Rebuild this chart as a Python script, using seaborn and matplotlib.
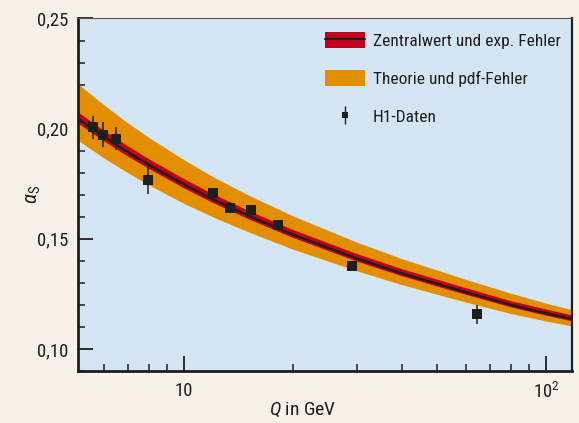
import numpy as np
import pandas as pd
import matplotlib
matplotlib.use("Agg")
import matplotlib.pyplot as plt
import matplotlib.font_manager as fm
import seaborn as sns
from matplotlib.patches import Patch
from matplotlib.lines import Line2D
from matplotlib.ticker import FixedLocator, FuncFormatter, NullFormatter, MultipleLocator

# ---------------- data ----------------
q_grid = [5.1, 6, 7, 8, 10, 12, 15, 20, 30, 40, 60, 80, 100, 120]
alpha_central = [0.2045, 0.1964, 0.1893, 0.1836, 0.1747, 0.1680, 0.1606,
                 0.1519, 0.1411, 0.1343, 0.1258, 0.1200, 0.1162, 0.1134]
exp_hi = [0.2075, 0.1993, 0.1921, 0.1863, 0.1773, 0.1705, 0.1630,
          0.1542, 0.1433, 0.1364, 0.1278, 0.1219, 0.1181, 0.1152]
exp_lo = [0.2025, 0.1945, 0.1875, 0.1819, 0.1731, 0.1665, 0.1592,
          0.1506, 0.1399, 0.1332, 0.1248, 0.1191, 0.1153, 0.1125]
theo_hi = [0.2203, 0.2109, 0.2026, 0.1960, 0.1859, 0.1783, 0.1700,
           0.1604, 0.1485, 0.1410, 0.1316, 0.1253, 0.1208, 0.1175]
theo_lo = [0.1947, 0.1868, 0.1800, 0.1745, 0.1661, 0.1600, 0.1533,
           0.1453, 0.1355, 0.1292, 0.1213, 0.1161, 0.1127, 0.1102]

h1_q = [5.62, 5.97, 6.48, 7.96, 12.0, 13.4, 15.3, 18.2, 29.2, 64.4]
h1_alpha = [0.2006, 0.1973, 0.1955, 0.1766, 0.1710, 0.1641, 0.1630, 0.1562, 0.1377, 0.1157]
h1_err = [0.0053, 0.0058, 0.0054, 0.0061, 0.0021, 0.0025, 0.0025, 0.0020, 0.0020, 0.0044]

y_ticks = [0.10, 0.15, 0.20, 0.25]
x_ticks = [10, 100]
x_tick_labels = ["10", "$10^2$"]
legend_labels = ["Zentralwert und exp. Fehler", "Theorie und pdf-Fehler", "H1-Daten"]

# ---------------- style ----------------
sns.set_theme(style="ticks")
names = {f.name for f in fm.fontManager.ttflist}
family = "DejaVu Sans"
stretch = "normal"
for cand in ["Liberation Sans Narrow", "Roboto Condensed", "Open Sans Condensed"]:
    if cand in names:
        family = cand
        break
else:
    if any(f.name == "DejaVu Sans" and f.stretch in ("condensed", "semi-condensed")
           for f in fm.fontManager.ttflist):
        stretch = "condensed"
plt.rcParams["font.family"] = [family, "DejaVu Sans"]
plt.rcParams["font.stretch"] = stretch
plt.rcParams["mathtext.fontset"] = "custom"
plt.rcParams["mathtext.rm"] = family
plt.rcParams["mathtext.it"] = family + ":italic"

BG_FIG = "#F9F1E7"
BG_AX = "#D4E5F4"
ORANGE = "#E38D00"
RED = "#C3001B"
DARK = "#1E1E1E"

fig = plt.figure(figsize=(5.79, 4.23), dpi=100, facecolor=BG_FIG)
ax = fig.add_axes([78 / 579, 1 - 371 / 423, (572 - 78) / 579, (371 - 18.5) / 423])
ax.set_facecolor(BG_AX)

df = pd.DataFrame({"Q": q_grid, "alpha": alpha_central})

ax.fill_between(q_grid, theo_lo, theo_hi, color=ORANGE, lw=0, zorder=2)
ax.fill_between(q_grid, exp_lo, exp_hi, color=RED, lw=0, zorder=3)
sns.lineplot(data=df, x="Q", y="alpha", color=DARK, lw=1.8, ax=ax, zorder=4)

ax.errorbar(h1_q, h1_alpha, yerr=h1_err, fmt="s", color=DARK, ms=7.5,
            mew=0, elinewidth=1.1, capsize=2.0, capthick=1.1, zorder=6)

ax.set_xscale("log")
ax.set_xlim(5.1, 118)
ax.set_ylim(0.09, 0.25)

ax.xaxis.set_major_locator(FixedLocator(x_ticks))
ax.set_xticklabels(x_tick_labels)
minors = [m * d for d in (1, 10) for m in range(2, 10)]
ax.xaxis.set_minor_locator(FixedLocator(minors))
ax.xaxis.set_minor_formatter(NullFormatter())
ax.yaxis.set_major_locator(FixedLocator(y_ticks))
ax.yaxis.set_minor_locator(MultipleLocator(0.01))
ax.yaxis.set_major_formatter(FuncFormatter(lambda v, p: f"{v:.2f}".replace(".", ",")))

ax.tick_params(axis="both", which="major", direction="in", length=11, width=1.3,
               color=DARK, labelsize=13.5, labelcolor=DARK, pad=7)
ax.tick_params(axis="both", which="minor", direction="in", length=5, width=1.1, color=DARK)
ax.tick_params(axis="x", which="major", pad=8)

for s in ["left", "bottom"]:
    ax.spines[s].set_linewidth(2.0)
    ax.spines[s].set_color(DARK)
ax.spines["right"].set_linewidth(1.6)
ax.spines["right"].set_color(DARK)
ax.spines["top"].set_linewidth(0.8)
ax.spines["top"].set_color("#555555")
for s in ax.spines.values():
    s.set_zorder(10)

ax.set_xlabel("$Q$ in GeV", fontsize=14, color=DARK)
ax.xaxis.set_label_coords(0.455, -0.085)
ax.set_ylabel(r"$\alpha_\mathrm{S}$", fontsize=15, color=DARK)
ax.yaxis.set_label_coords(-0.07, 0.5)

h_red = (Patch(facecolor=RED, edgecolor="none"), Line2D([], [], color=DARK, lw=1.5))
h_or = Patch(facecolor=ORANGE, edgecolor="none")
eb = ax.errorbar([], [], yerr=[], fmt="s", color=DARK, ms=5, mew=0,
                 elinewidth=1.0, capsize=2, capthick=1.0)
leg = ax.legend([h_red, h_or, eb], legend_labels, loc="upper left",
                bbox_to_anchor=(0.468, 1.007), frameon=False, fontsize=12.5,
                handlelength=2.3, handleheight=1.1, labelspacing=1.2,
                handletextpad=0.45, labelcolor=DARK)

fig.savefig("out.png", dpi=100, facecolor=BG_FIG)
